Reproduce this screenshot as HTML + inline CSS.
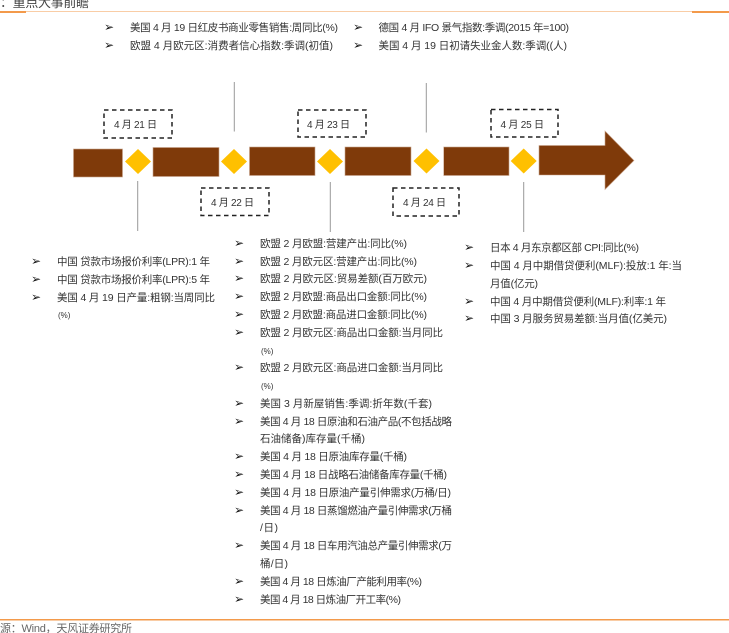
<!DOCTYPE html>
<html lang="zh"><head><meta charset="utf-8"><title>重点大事前瞻</title>
<style>
html,body{margin:0;padding:0;background:#fff}
svg{display:block}
text{font-family:"Liberation Sans","Noto Sans CJK SC",sans-serif;font-size:10.5px;fill:#333}
.b{font-family:"DejaVu Sans",sans-serif;font-size:12px;fill:#111}
.d{font-size:10px;fill:#333}
.p{font-size:8px}
.t{filter:blur(.25px)}
</style></head><body>
<svg width="729" height="633" viewBox="0 0 729 633" xmlns="http://www.w3.org/2000/svg">
<rect width="729" height="633" fill="#fff"/>
<rect y="11" width="729" height="1" fill="#f9cda6"/>
<rect y="11" width="26" height="2" fill="#f39a4b"/>
<rect x="692" y="11" width="37" height="2" fill="#f39a4b"/>
<text x="0" y="7" style="font-size:13px;fill:#444" textLength="89">：重点大事前瞻</text>
<rect y="619" width="729" height="1.5" fill="#f39a4b"/>
<text x="0" y="632" style="font-size:11px;fill:#666" textLength="132">源：Wind，天风证券研究所</text>

<g fill="#7f3a0a" stroke="#c9a48c" stroke-width=".6">
<rect x="73.5" y="149" width="49" height="28"/>
<rect x="153" y="147.5" width="66" height="29"/>
<rect x="249.5" y="147" width="65.5" height="28.5"/>
<rect x="345" y="147" width="66" height="28.5"/>
<rect x="443.7" y="147" width="65.3" height="28.5"/>
<path d="M539 145.5H605V131L634 160.5 605 189.5V175H539Z"/>
</g>
<g fill="#ffc000">
<path d="M138 149l13 12.5-13 12.5-13-12.5z"/>
<path d="M234 149l13 12.5-13 12.5-13-12.5z"/>
<path d="M330 149l13 12.5-13 12.5-13-12.5z"/>
<path d="M426.5 148.5l13 12.5-13 12.5-13-12.5z"/>
<path d="M523.7 148.5l13 12.5-13 12.5-13-12.5z"/>
</g>
<g stroke="#999" stroke-width="1" fill="none">
<path d="M137.7 181V231M234.3 82V131.5M330.3 182V232M426.3 83V132.5M523.7 182V232"/>
</g>
<g fill="none" stroke="#222" stroke-width="1.5" stroke-dasharray="4.5 3.5">
<rect x="104" y="110" width="68" height="28"/>
<rect x="298" y="110" width="68" height="27"/>
<rect x="201" y="188" width="68" height="27.5"/>
<rect x="393" y="188" width="66" height="28"/>
<rect x="491" y="109.5" width="67" height="27.5"/>
</g>

<g class="t">
<text class="d" x="114" y="128" textLength="43">4 月 21 日</text>
<text class="d" x="307" y="128" textLength="43">4 月 23 日</text>
<text class="d" x="211" y="206" textLength="43">4 月 22 日</text>
<text class="d" x="403" y="206" textLength="43">4 月 24 日</text>
<text class="d" x="500.5" y="128" textLength="43.5">4 月 25 日</text>

<text x="130" y="31" textLength="208">美国 4 月 19 日红皮书商业零售销售:周同比(%)</text>
<text x="130" y="49" textLength="203">欧盟 4 月欧元区:消费者信心指数:季调(初值)</text>
<text x="378.5" y="31" textLength="190.5">德国 4 月 IFO 景气指数:季调(2015 年=100)</text>
<text x="378.5" y="49" textLength="188.5">美国 4 月 19 日初请失业金人数:季调((人)</text>

<text x="57" y="265" textLength="153">中国 贷款市场报价利率(LPR):1 年</text>
<text x="57" y="283" textLength="153">中国 贷款市场报价利率(LPR):5 年</text>
<text x="57" y="301" textLength="158">美国 4 月 19 日产量:粗钢:当周同比</text>
<text class="p" x="58" y="318">(%)</text>

<text x="260" y="247" textLength="147">欧盟 2 月欧盟:营建产出:同比(%)</text>
<text x="260" y="265" textLength="157">欧盟 2 月欧元区:营建产出:同比(%)</text>
<text x="260" y="282" textLength="167">欧盟 2 月欧元区:贸易差额(百万欧元)</text>
<text x="260" y="300" textLength="167">欧盟 2 月欧盟:商品出口金额:同比(%)</text>
<text x="260" y="318" textLength="167">欧盟 2 月欧盟:商品进口金额:同比(%)</text>
<text x="260" y="336" textLength="183">欧盟 2 月欧元区:商品出口金额:当月同比</text>
<text class="p" x="261" y="354">(%)</text>
<text x="260" y="371" textLength="183">欧盟 2 月欧元区:商品进口金额:当月同比</text>
<text class="p" x="261" y="389">(%)</text>
<text x="260" y="407" textLength="172">美国 3 月新屋销售:季调:折年数(千套)</text>
<text x="260" y="425" textLength="192">美国 4 月 18 日原油和石油产品(不包括战略</text>
<text x="260" y="442" textLength="105">石油储备)库存量(千桶)</text>
<text x="260" y="460" textLength="147">美国 4 月 18 日原油库存量(千桶)</text>
<text x="260" y="478" textLength="187">美国 4 月 18 日战略石油储备库存量(千桶)</text>
<text x="260" y="496" textLength="191">美国 4 月 18 日原油产量引伸需求(万桶/日)</text>
<text x="260" y="514" textLength="192">美国 4 月 18 日蒸馏燃油产量引伸需求(万桶</text>
<text x="260" y="531" textLength="18">/日)</text>
<text x="260" y="549" textLength="192">美国 4 月 18 日车用汽油总产量引伸需求(万</text>
<text x="260" y="567" textLength="28">桶/日)</text>
<text x="260" y="585" textLength="162">美国 4 月 18 日炼油厂产能利用率(%)</text>
<text x="260" y="603" textLength="141">美国 4 月 18 日炼油厂开工率(%)</text>

<text x="490" y="251" textLength="149">日本 4 月东京都区部 CPI:同比(%)</text>
<text x="490" y="269" textLength="192">中国 4 月中期借贷便利(MLF):投放:1 年:当</text>
<text x="490" y="287" textLength="48">月值(亿元)</text>
<text x="490" y="305" textLength="176">中国 4 月中期借贷便利(MLF):利率:1 年</text>
<text x="490" y="322" textLength="177">中国 3 月服务贸易差额:当月值(亿美元)</text>
</g>

<g>
<text class="b" x="104" y="31">➢</text><text class="b" x="104" y="49">➢</text>
<text class="b" x="353" y="31">➢</text><text class="b" x="353" y="49">➢</text>
<text class="b" x="31" y="265">➢</text><text class="b" x="31" y="283">➢</text><text class="b" x="31" y="301">➢</text>
<text class="b" x="234" y="247">➢</text><text class="b" x="234" y="265">➢</text><text class="b" x="234" y="282">➢</text>
<text class="b" x="234" y="300">➢</text><text class="b" x="234" y="318">➢</text><text class="b" x="234" y="336">➢</text>
<text class="b" x="234" y="371">➢</text><text class="b" x="234" y="407">➢</text><text class="b" x="234" y="425">➢</text>
<text class="b" x="234" y="460">➢</text><text class="b" x="234" y="478">➢</text><text class="b" x="234" y="496">➢</text>
<text class="b" x="234" y="514">➢</text><text class="b" x="234" y="549">➢</text><text class="b" x="234" y="585">➢</text>
<text class="b" x="234" y="603">➢</text>
<text class="b" x="464" y="251">➢</text><text class="b" x="464" y="269">➢</text><text class="b" x="464" y="305">➢</text><text class="b" x="464" y="322">➢</text>
</g>
</svg>
</body></html>
